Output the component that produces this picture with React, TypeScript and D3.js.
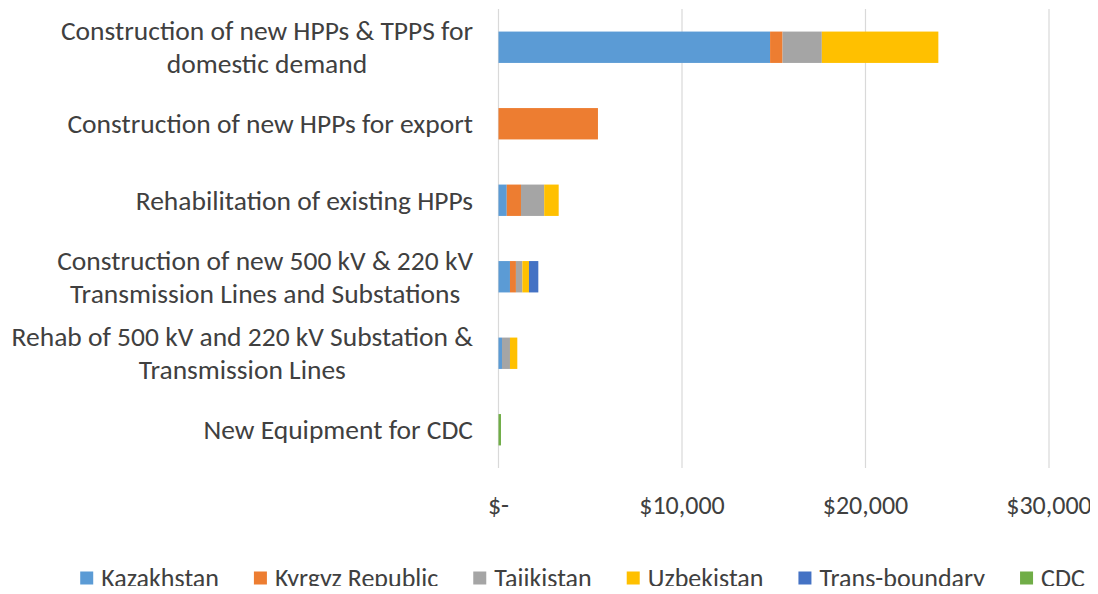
import React, { useEffect, useRef } from "react";
import * as d3 from "d3";

const categories = [
  "Construction of new HPPs & TPPS for|domestic demand",
  "Construction of new HPPs for export",
  "Rehabilitation of existing HPPs",
  "Construction of new 500 kV & 220 kV|Transmission Lines and Substations",
  "Rehab of 500 kV and 220 kV Substation &|Transmission Lines",
  "New Equipment for CDC",
];

const seriesNames = ["Kazakhstan", "Kyrgyz Republic", "Tajikistan", "Uzbekistan", "Trans-boundary", "CDC"];
const seriesColors = ["#5B9BD5", "#ED7D31", "#A5A5A5", "#FFC000", "#4472C4", "#70AD47"];

const kazakhstan = [14800, 0, 450, 625, 190, 0];
const kyrgyz = [680, 5420, 775, 325, 0, 0];
const tajikistan = [2140, 0, 1265, 350, 435, 0];
const uzbekistan = [6350, 0, 790, 360, 400, 0];
const transBoundary = [0, 0, 0, 510, 0, 0];
const cdc = [0, 0, 0, 0, 0, 135];

const tickValues = [0, 10000, 20000, 30000];
const tickLabels = ["$-", "$10,000", "$20,000", "$30,000"];

const FONT = "Carlito, Lato, 'Open Sans', sans-serif";
const FS = 27.5;
const FS_SMALL = 26;

const App = () => {
  const ref = useRef<HTMLDivElement>(null);

  useEffect(() => {
    drawChart();
  }, []);

  const drawChart = () => {
    const width = 1098,
      height = 594;
    const left = 498.5,
      right = 1049,
      top = 9,
      bottom = 468;

    const svg = d3
      .select(ref.current)
      .html("")
      .append("svg")
      .attr("width", width)
      .attr("height", height)
      .style("display", "block")
      .style("font-family", FONT);

    const x = d3.scaleLinear().domain([0, 30000]).range([left, right]);
    const y = d3
      .scaleBand()
      .domain(categories)
      .range([top, bottom])
      .paddingInner(0.59)
      .paddingOuter(0.295);

    const all = [kazakhstan, kyrgyz, tajikistan, uzbekistan, transBoundary, cdc];
    const rows = categories.map((c, i) => {
      const r: any = { cat: c };
      seriesNames.forEach((s, j) => (r[s] = all[j][i]));
      return r;
    });
    const stacked = d3.stack().keys(seriesNames)(rows);

    // gridlines
    svg
      .append("g")
      .selectAll("line")
      .data(tickValues)
      .join("line")
      .attr("x1", (d) => x(d))
      .attr("x2", (d) => x(d))
      .attr("y1", top)
      .attr("y2", bottom)
      .attr("stroke", "#d9d9d9")
      .attr("stroke-width", 1.2);

    svg
      .append("g")
      .selectAll("g")
      .data(stacked)
      .join("g")
      .attr("fill", (d, i) => seriesColors[i])
      .selectAll("rect")
      .data((d) => d)
      .join("rect")
      .attr("x", (d) => x(d[0]))
      .attr("width", (d) => x(d[1]) - x(d[0]))
      .attr("y", (d: any) => y(d.data.cat)!)
      .attr("height", y.bandwidth());

    // tick labels
    svg
      .append("g")
      .selectAll("text")
      .data(tickValues)
      .join("text")
      .attr("x", (d) => x(d))
      .attr("y", 505)
      .attr("dy", "0.35em")
      .attr("text-anchor", "middle")
      .attr("font-size", FS_SMALL)
      .attr("fill", "#404040")
      .text((d, i) => tickLabels[i]);

    // category labels, right aligned block with centred lines
    const labelRight = 473;
    categories.forEach((c) => {
      const lines = c.split("|");
      const g = svg.append("g");
      const cy = y(c)! + y.bandwidth() / 2;
      const lh = 33;
      const texts = lines.map((l, k) =>
        g
          .append("text")
          .attr("y", cy + (k - (lines.length - 1) / 2) * lh)
          .attr("dy", "0.35em")
          .attr("text-anchor", "middle")
          .attr("font-size", FS)
          .attr("fill", "#404040")
          .text(l)
      );
      const maxW = d3.max(texts, (t) => (t.node() as SVGTextElement).getComputedTextLength())!;
      texts.forEach((t) => t.attr("x", labelRight - maxW / 2));
    });

    // legend
    const legend = svg.append("g");
    let lx = 0;
    const gap = 35;
    seriesNames.forEach((s, i) => {
      const g = legend.append("g");
      g.append("rect").attr("x", 0).attr("y", -6.5).attr("width", 13).attr("height", 13).attr("fill", seriesColors[i]);
      const t = g
        .append("text")
        .attr("x", 21)
        .attr("dy", "0.35em")
        .attr("font-size", FS_SMALL)
        .attr("fill", "#404040")
        .text(s);
      const w = 21 + (t.node() as SVGTextElement).getComputedTextLength();
      g.attr("transform", `translate(${lx},0)`);
      lx += w + gap;
    });
    const totalW = lx - gap;
    legend.attr("transform", `translate(${(75 + 1090) / 2 - totalW / 2},578)`);
  };

  return <div ref={ref} style={{ margin: -8 }}></div>;
};

export default App;
